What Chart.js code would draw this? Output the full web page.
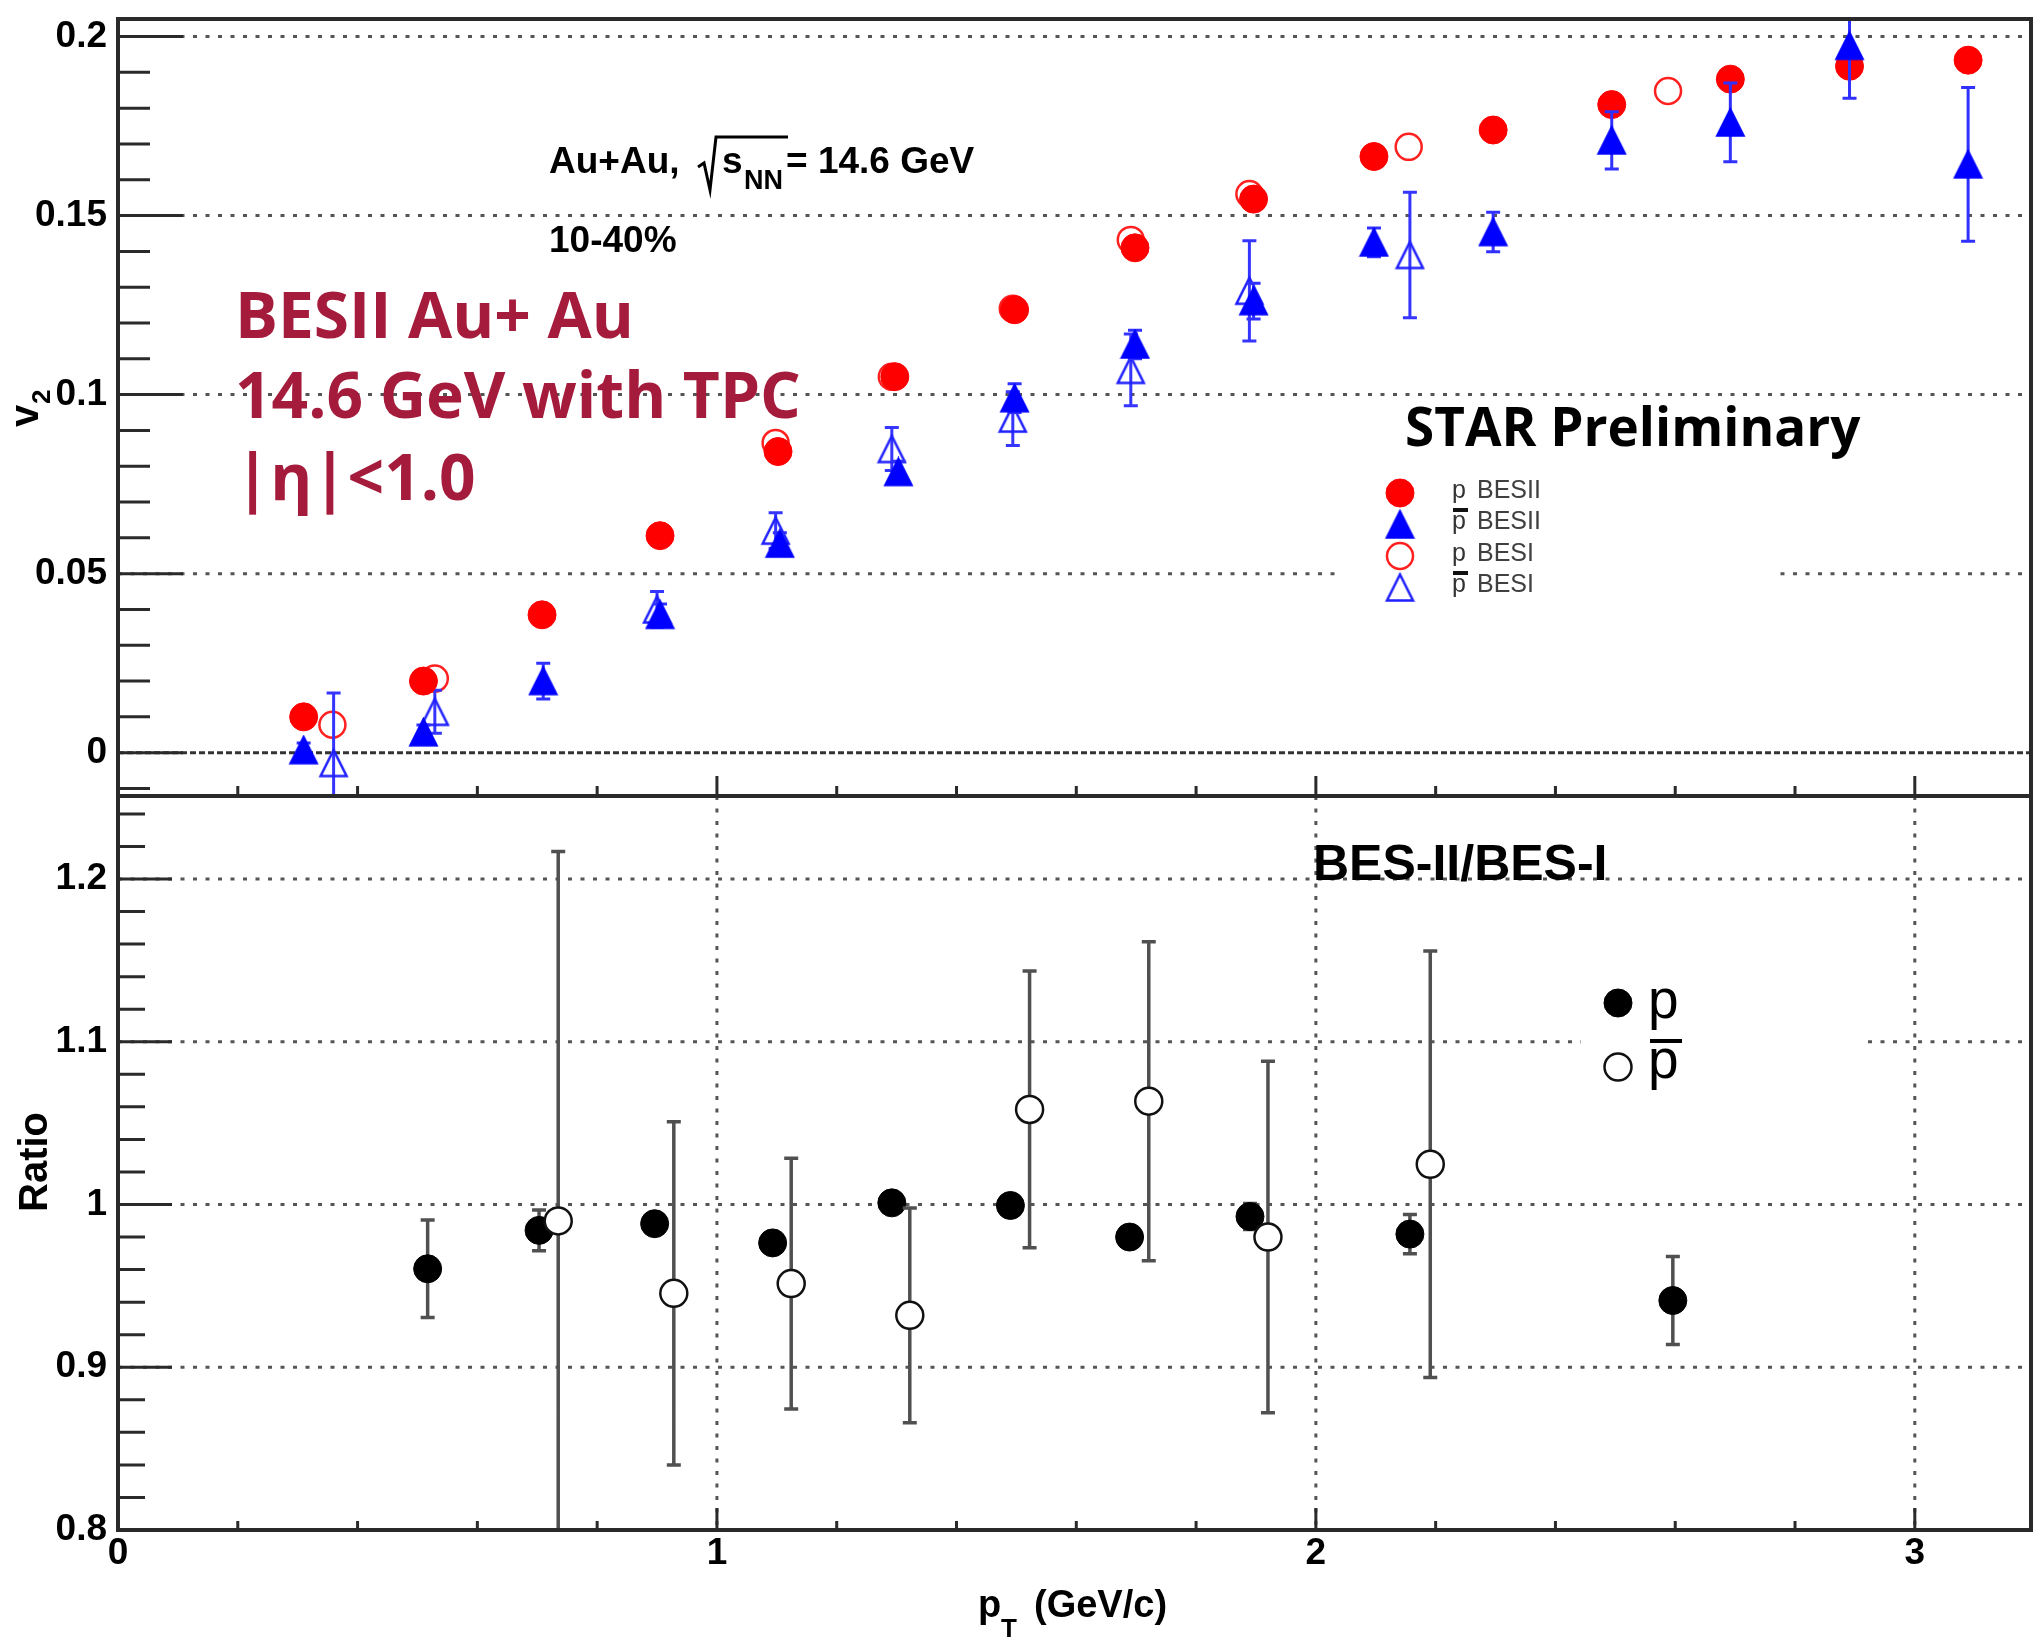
<!DOCTYPE html>
<html>
<head>
<meta charset="utf-8">
<title>Proton / antiproton v2 at 14.6 GeV</title>
<script src="https://cdn.jsdelivr.net/npm/chart.js@4.4.1/dist/chart.umd.min.js"></script>
<style>
  html, body { margin: 0; padding: 0; background: #fff; }
  #wrap { position: relative; width: 2034px; height: 1642px; overflow: hidden; }
  #v2Chart { position: absolute; left: 0; top: 0; }
  #ratioChart { position: absolute; left: 0; top: 792px; }
</style>
</head>
<body>
<div id="wrap">
  <canvas id="v2Chart" width="2034" height="800"></canvas>
  <canvas id="ratioChart" width="2034" height="850"></canvas>
</div>
<script>
// ---- v2(pT), BES-II ----
const pBes2Pt  = [0.31, 0.51, 0.708, 0.905, 1.102, 1.297, 1.497, 1.698, 1.896, 2.097, 2.296, 2.494, 2.692, 2.891, 3.089];
const pBes2V2  = [0.010, 0.020, 0.0385, 0.0606, 0.0841, 0.105, 0.1237, 0.141, 0.1546, 0.1665, 0.1739, 0.181, 0.1881, 0.1917, 0.1934];

const pbarBes2Pt  = [0.31, 0.51, 0.71, 0.905, 1.105, 1.303, 1.497, 1.698, 1.896, 2.097, 2.296, 2.494, 2.692, 2.891, 3.089];
const pbarBes2V2  = [0.0007, 0.0057, 0.020, 0.0385, 0.0584, 0.0784, 0.099, 0.114, 0.1261, 0.1425, 0.1454, 0.171, 0.176, 0.1974, 0.1643];
const pbarBes2Err = [0.002, 0.002, 0.005, 0.003, 0.003, 0.003, 0.004, 0.004, 0.005, 0.004, 0.0055, 0.008, 0.011, 0.0146, 0.0215];

// ---- v2(pT), BES-I ----
const pBes1Pt = [0.358, 0.529, 1.098, 1.292, 1.494, 1.691, 1.889, 2.155, 2.588];
const pBes1V2 = [0.0078, 0.0207, 0.0865, 0.105, 0.124, 0.1432, 0.156, 0.1692, 0.1848];

const pbarBes1Pt  = [0.36, 0.529, 0.9, 1.098, 1.292, 1.494, 1.691, 1.889, 2.157];
const pbarBes1V2  = [-0.0029, 0.0114, 0.040, 0.062, 0.0848, 0.0933, 0.1069, 0.129, 0.139];
const pbarBes1Err = [0.0196, 0.006, 0.005, 0.005, 0.006, 0.0075, 0.01, 0.014, 0.0175];

// ---- ratio BES-II / BES-I ----
const ratioPPt  = [0.517, 0.703, 0.896, 1.093, 1.292, 1.49, 1.689, 1.89, 2.157, 2.596];
const ratioP    = [0.9605, 0.9841, 0.9882, 0.9764, 1.001, 0.9994, 0.980, 0.9926, 0.9818, 0.941];
const ratioPErr = [0.030, 0.0125, 0.006, 0.006, 0.006, 0.006, 0.006, 0.008, 0.012, 0.027];

const ratioPbarPt  = [0.735, 0.928, 1.124, 1.322, 1.522, 1.721, 1.92, 2.191];
const ratioPbar    = [0.9899, 0.9454, 0.9514, 0.9319, 1.0584, 1.0635, 0.980, 1.0247];
const ratioPbarErr = [0.227, 0.1055, 0.077, 0.066, 0.085, 0.098, 0.108, 0.131];

// ---- axes ----
const ptTicks    = [0, 1, 2, 3];
const v2Ticks    = [0, 0.05, 0.1, 0.15, 0.2];
const ratioTicks = [0.8, 0.9, 1, 1.1, 1.2];
const ptRange    = [0, 3.194];
const v2Range    = [-0.0121, 0.2049];
const ratioRange = [0.8, 1.251];

const SANS = '"Liberation Sans", Arial, Helvetica, sans-serif';
const CALLOUT = '"Open Sans", "Noto Sans", sans-serif';
const tickFont = { family: SANS, size: 37, weight: 'bold' };

const xy = (xs, ys) => xs.map((x, i) => ({ x, y: ys[i] }));

// ROOT-like triangle marker, centred on its bounding box
function triangleMarker(color, filled) {
  const s = 31, lw = 2.5;
  const c = document.createElement('canvas');
  c.width = s; c.height = s;
  const g = c.getContext('2d');
  g.beginPath();
  g.moveTo(s / 2, lw);
  g.lineTo(s - lw, s - lw);
  g.lineTo(lw, s - lw);
  g.closePath();
  if (filled) { g.fillStyle = color; g.fill(); }
  g.strokeStyle = color; g.lineWidth = lw; g.stroke();
  return c;
}
const triFilled = triangleMarker('#0000ff', true);
const triOpen   = triangleMarker('#1f1fff', false);

function scalesFor(yRange, yTicks, showX) {
  return {
    x: {
      type: 'linear', min: ptRange[0], max: ptRange[1], display: showX,
      afterBuildTicks: s => { s.ticks = ptTicks.map(v => ({ value: v })); },
      afterFit: s => {
        if (showX) s.height = 112;
        s.paddingLeft = 0; s.paddingRight = 0;
      },
      grid: { display: false, drawTicks: false },
      border: { display: false },
      ticks: { font: tickFont, color: '#000', padding: 2, maxRotation: 0, autoSkip: false, callback: v => String(v) }
    },
    y: {
      type: 'linear', min: yRange[0], max: yRange[1],
      afterBuildTicks: s => { s.ticks = yTicks.map(v => ({ value: v })); },
      afterFit: s => { s.width = 118; s.paddingTop = 0; s.paddingBottom = 0; },
      grid: { display: false, drawTicks: false },
      border: { display: false },
      ticks: { font: tickFont, color: '#000', padding: 11, autoSkip: false, callback: v => String(v) }
    }
  };
}

function line(ctx, x1, y1, x2, y2, color, width, dash) {
  ctx.save();
  ctx.strokeStyle = color;
  ctx.lineWidth = width;
  ctx.setLineDash(dash || []);
  ctx.beginPath(); ctx.moveTo(x1, y1); ctx.lineTo(x2, y2); ctx.stroke();
  ctx.restore();
}

function text(ctx, s, x, y, font, color, align) {
  ctx.font = font;
  ctx.fillStyle = color || '#000';
  ctx.textAlign = align || 'left';
  ctx.textBaseline = 'alphabetic';
  ctx.fillText(s, x, y);
}

function marker(ctx, ds, x, y) {
  ctx.save();
  ctx.fillStyle = ds.backgroundColor;
  ctx.strokeStyle = ds.borderColor;
  ctx.lineWidth = ds.borderWidth;
  Chart.helpers.drawPoint(ctx, { pointStyle: ds.pointStyle, radius: ds.pointRadius, rotation: 0, borderWidth: ds.borderWidth }, x, y);
  ctx.restore();
}

// frame, inner ticks, dotted grid and error bars in ROOT style
function panelPlugin(spec) {
  return {
    id: 'panel_' + spec.name,
    beforeDatasetsDraw(chart) {
      const { ctx, chartArea: a, scales: { x, y } } = chart;
      spec.hGrid.forEach(v => {
        const py = y.getPixelForValue(v);
        line(ctx, a.left, py, a.right, py, '#555', 3, [4, 8.5]);
      });
      spec.vGrid.forEach(v => {
        const px = x.getPixelForValue(v);
        line(ctx, px, a.top, px, a.bottom, '#555', 3, [4, 8.5]);
      });
      if (spec.zeroLine !== undefined) {
        const py = y.getPixelForValue(spec.zeroLine);
        line(ctx, a.left, py, a.right, py, '#333', 3, [6, 3]);
      }
      if (spec.legendBox) {
        const b = spec.legendBox;
        ctx.save(); ctx.fillStyle = '#fff'; ctx.fillRect(b[0], b[1], b[2], b[3]); ctx.restore();
      }
    },
    beforeDatasetDraw(chart, args) {
      const bars = spec.errors[args.index];
      if (!bars) return;
      const { ctx, chartArea: a, scales: { y } } = chart;
      const data = chart.data.datasets[args.index].data;
      ctx.save();
      ctx.beginPath(); ctx.rect(a.left, a.top, a.width, a.height); ctx.clip();
      ctx.strokeStyle = bars.color;
      ctx.lineWidth = bars.width;
      ctx.beginPath();
      args.meta.data.forEach((el, i) => {
        const e = bars.err[i];
        const hi = y.getPixelForValue(data[i].y + e);
        const lo = y.getPixelForValue(data[i].y - e);
        ctx.moveTo(el.x, hi); ctx.lineTo(el.x, lo);
        ctx.moveTo(el.x - bars.cap, hi); ctx.lineTo(el.x + bars.cap, hi);
        ctx.moveTo(el.x - bars.cap, lo); ctx.lineTo(el.x + bars.cap, lo);
      });
      ctx.stroke();
      ctx.restore();
    },
    afterDraw(chart) {
      const { ctx, chartArea: a, scales: { x, y } } = chart;
      const t = spec.ticks;
      ctx.save();
      ctx.strokeStyle = '#2a2a2a';
      ctx.lineWidth = 3;
      ctx.beginPath();
      for (let k = Math.ceil(y.min / t.yMinor - 1e-6); k * t.yMinor <= y.max + 1e-9; k++) {
        const v = k * t.yMinor;
        const major = Math.abs(v / t.yMajor - Math.round(v / t.yMajor)) < 1e-6;
        const py = y.getPixelForValue(v);
        ctx.moveTo(a.left, py); ctx.lineTo(a.left + (major ? t.yMajorLen : t.yMinorLen), py);
      }
      for (let k = Math.ceil(x.min / t.xMinor - 1e-6); k * t.xMinor <= x.max + 1e-9; k++) {
        const v = k * t.xMinor;
        const major = Math.abs(v / t.xMajor - Math.round(v / t.xMajor)) < 1e-6;
        const px = x.getPixelForValue(v);
        ctx.moveTo(px, a.bottom); ctx.lineTo(px, a.bottom - (major ? t.xMajorLen : t.xMinorLen));
      }
      ctx.stroke();
      ctx.lineWidth = 4;
      ctx.strokeRect(a.left, a.top, a.width, a.height);
      ctx.restore();
      spec.decorate(ctx, chart);
    }
  };
}

// ---------------- top panel ----------------
const v2Datasets = [
  { label: 'p\u0304 BESII', data: xy(pbarBes2Pt, pbarBes2V2), pointStyle: triFilled, pointRadius: 15,
    backgroundColor: '#0000ff', borderColor: '#0000ff', borderWidth: 0 },
  { label: 'p BESII', data: xy(pBes2Pt, pBes2V2), pointStyle: 'circle', pointRadius: 14,
    backgroundColor: '#ff0000', borderColor: '#ff0000', borderWidth: 1 },
  { label: 'p\u0304 BESI', data: xy(pbarBes1Pt, pbarBes1V2), pointStyle: triOpen, pointRadius: 15,
    backgroundColor: 'rgba(0,0,0,0)', borderColor: '#1f1fff', borderWidth: 0 },
  { label: 'p BESI', data: xy(pBes1Pt, pBes1V2), pointStyle: 'circle', pointRadius: 13,
    backgroundColor: 'rgba(0,0,0,0)', borderColor: '#ff2020', borderWidth: 2.5 }
];

const v2Panel = panelPlugin({
  name: 'v2',
  hGrid: [0.05, 0.1, 0.15, 0.2],
  vGrid: [],
  zeroLine: 0,
  legendBox: [1341, 462, 437, 140],
  ticks: { yMinor: 0.01, yMajor: 0.05, yMinorLen: 32, yMajorLen: 65,
           xMinor: 0.2, xMajor: 1, xMinorLen: 10, xMajorLen: 20 },
  errors: {
    0: { err: pbarBes2Err, color: '#3030ff', width: 3, cap: 7 },
    2: { err: pbarBes1Err, color: '#3535ff', width: 3, cap: 7 }
  },
  decorate(ctx, chart) {
    const big = `bold 37px ${SANS}`;
    text(ctx, 'Au+Au,', 549, 173, big);
    // radical over s_NN
    ctx.save();
    ctx.strokeStyle = '#000'; ctx.lineWidth = 3; ctx.lineJoin = 'miter';
    ctx.beginPath();
    ctx.moveTo(698, 167); ctx.lineTo(704, 163); ctx.lineTo(710, 190); ctx.lineTo(716, 137); ctx.lineTo(788, 137);
    ctx.stroke();
    ctx.restore();
    text(ctx, 's', 722, 173, big);
    text(ctx, 'NN', 744, 189, `bold 27px ${SANS}`);
    text(ctx, '= 14.6 GeV', 786, 173, big);
    text(ctx, '10-40%', 549, 252, big);

    const red = '#a51b3b', callout = `bold 64px ${CALLOUT}`;
    text(ctx, 'BESII Au+ Au', 235, 338, callout, red);
    text(ctx, '14.6 GeV with TPC', 235, 418, callout, red);
    text(ctx, '|\u03b7|<1.0', 235, 500, callout, red);

    text(ctx, 'STAR Preliminary', 1405, 446, `bold 53px ${CALLOUT}`);

    // legend
    const rows = [
      { ds: 1, bar: false, tail: 'BESII' },
      { ds: 0, bar: true,  tail: 'BESII' },
      { ds: 3, bar: false, tail: 'BESI' },
      { ds: 2, bar: true,  tail: 'BESI' }
    ];
    const lf = `25px ${SANS}`;
    rows.forEach((r, i) => {
      const my = 493 + i * 31.5;
      marker(ctx, chart.data.datasets[r.ds], 1400, my);
      const base = my + 4.5;
      text(ctx, 'p', 1452, base, lf, '#333');
      if (r.bar) { ctx.fillStyle = '#111'; ctx.fillRect(1453, base - 21, 15, 4); }
      text(ctx, r.tail, 1477, base, lf, '#404040');
    });

    // axis title v_2
    ctx.save();
    ctx.translate(38, 427);
    ctx.rotate(-Math.PI / 2);
    text(ctx, 'v', 0, 0, `bold 40px ${SANS}`);
    text(ctx, '2', 23, 12, `bold 26px ${SANS}`);
    ctx.restore();
  }
});

new Chart(document.getElementById('v2Chart'), {
  type: 'scatter',
  data: { datasets: v2Datasets },
  options: {
    responsive: false, animation: false, devicePixelRatio: 1, events: [],
    layout: { autoPadding: false, padding: { top: 19, right: 3, bottom: 4, left: 0 } },
    scales: scalesFor(v2Range, v2Ticks, false),
    plugins: { legend: { display: false }, tooltip: { enabled: false } }
  },
  plugins: [v2Panel]
});

// ---------------- bottom panel ----------------
const ratioDatasets = [
  { label: 'p\u0304', data: xy(ratioPbarPt, ratioPbar), pointStyle: 'circle', pointRadius: 13.5,
    backgroundColor: '#ffffff', borderColor: '#111', borderWidth: 2.5 },
  { label: 'p', data: xy(ratioPPt, ratioP), pointStyle: 'circle', pointRadius: 14,
    backgroundColor: '#000', borderColor: '#000', borderWidth: 1 }
];

const ratioPanel = panelPlugin({
  name: 'ratio',
  hGrid: [0.9, 1, 1.1, 1.2],
  vGrid: [1, 2, 3],
  legendBox: [1581, 160, 283, 145],
  ticks: { yMinor: 0.02, yMajor: 0.1, yMinorLen: 27, yMajorLen: 54,
           xMinor: 0.2, xMajor: 1, xMinorLen: 9, xMajorLen: 22 },
  errors: {
    0: { err: ratioPbarErr, color: '#505050', width: 3.5, cap: 7 },
    1: { err: ratioPErr, color: '#505050', width: 3.5, cap: 7 }
  },
  decorate(ctx, chart) {
    text(ctx, 'BES-II/BES-I', 1313, 88, `bold 50px ${SANS}`);

    const lf = `55px ${SANS}`;
    marker(ctx, chart.data.datasets[1], 1618, 211);
    text(ctx, 'p', 1648, 225.5, lf);
    marker(ctx, chart.data.datasets[0], 1618, 275);
    text(ctx, 'p', 1648, 285.5, lf);
    ctx.fillStyle = '#000';
    ctx.fillRect(1650, 247, 32, 4);

    // axis titles
    ctx.save();
    ctx.translate(47, 370);
    ctx.rotate(-Math.PI / 2);
    text(ctx, 'Ratio', 0, 0, `bold 40px ${SANS}`, '#000', 'center');
    ctx.restore();

    text(ctx, 'p', 978, 825, `bold 38px ${SANS}`);
    text(ctx, 'T', 1001, 845, `bold 26px ${SANS}`);
    text(ctx, '(GeV/c)', 1034, 825, `bold 38px ${SANS}`);
  }
});

new Chart(document.getElementById('ratioChart'), {
  type: 'scatter',
  data: { datasets: ratioDatasets },
  options: {
    responsive: false, animation: false, devicePixelRatio: 1, events: [],
    layout: { autoPadding: false, padding: { top: 4, right: 3, bottom: 0, left: 0 } },
    scales: scalesFor(ratioRange, ratioTicks, true),
    plugins: { legend: { display: false }, tooltip: { enabled: false } }
  },
  plugins: [ratioPanel]
});
</script>
</body>
</html>
